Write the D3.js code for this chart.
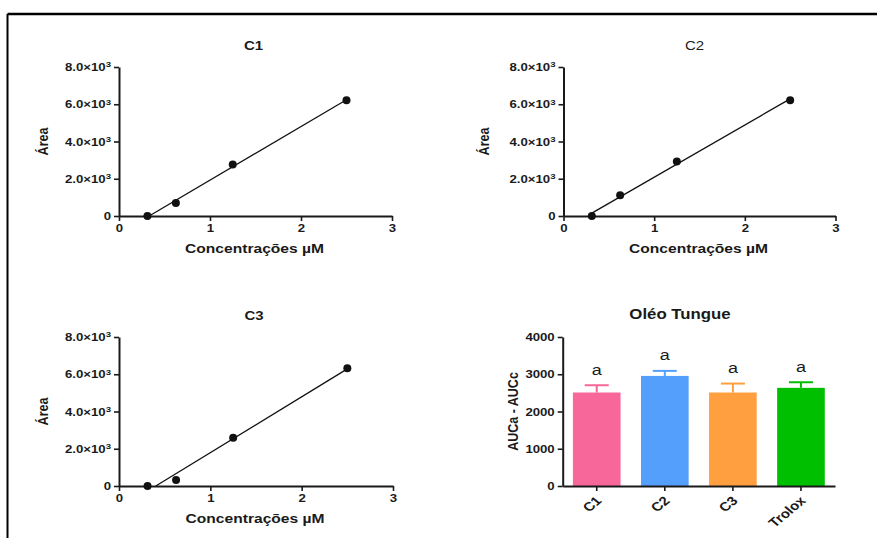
<!DOCTYPE html>
<html><head><meta charset="utf-8">
<script src="https://cdn.jsdelivr.net/npm/d3@7"></script>
<style>body{margin:0;background:#fff}svg{display:block}text{font-family:"Liberation Sans",Arial,sans-serif;fill:#1a1a1a}</style>
</head><body><svg id="c" width="877" height="538"></svg>
<script>
// ---- data ----
const concentrations = [0.3125, 0.625, 1.25, 2.5];
const areaC1 = [0, 700, 2770, 6210];
const areaC2 = [0, 1120, 2930, 6215];
const areaC3 = [0, 320, 2590, 6320];
const scatterXTicks = [0, 1, 2, 3];
const scatterYTicks = [0, 2000, 4000, 6000, 8000];
const barCategories = ["C1", "C2", "C3", "Trolox"];
const barMeans = [2510, 2955, 2510, 2635];
const barSD = [195, 135, 240, 150];
const barLetters = ["a", "a", "a", "a"];
const barYTicks = [0, 1000, 2000, 3000, 4000];
const barColors = ["#F7679A", "#559FFC", "#FF9F40", "#00BF00"];

const S = 1.2; // horizontal text stretch
const svg = d3.select("#c");

// frame
svg.append("line").attr("x1", 7.5).attr("x2", 877).attr("y1", 14).attr("y2", 14).attr("stroke", "#000").attr("stroke-width", 2.5);
svg.append("line").attr("x1", 7.5).attr("x2", 7.5).attr("y1", 14).attr("y2", 538).attr("stroke", "#000").attr("stroke-width", 2);

function txt(x, y, s, size, weight, anchor, rot) {
  return svg.append("text")
    .attr("transform", `translate(${x},${y}) scale(${S},1)` + (rot ? ` rotate(${rot})` : ""))
    .attr("font-size", size).attr("font-weight", weight).attr("text-anchor", anchor || "middle")
    .text(s);
}
function styleAxis(g, fs) {
  g.select(".domain").attr("stroke", "#1a1a1a").attr("stroke-width", 2);
  g.selectAll(".tick line").attr("stroke", "#1a1a1a").attr("stroke-width", 1.6);
  g.selectAll(".tick text").each(function () {
    const t = d3.select(this);
    const x = +t.attr("x") || 0;
    t.attr("x", x / S).attr("transform", `scale(${S},1)`)
     .attr("font-size", fs || 11).attr("font-weight", "bold").attr("fill", "#1a1a1a")
     .style("font-family", '"Liberation Sans",Arial,sans-serif');
  });
}

function scatterPanel(p) {
  const x = d3.scaleLinear().domain([0, 3]).range([p.x0, p.x1]);
  const y = d3.scaleLinear().domain([0, 8000]).range([p.y0, p.yt]);
  const gx = svg.append("g").attr("transform", `translate(0,${p.y0})`)
    .call(d3.axisBottom(x).tickValues(scatterXTicks).tickSize(5).tickPadding(3).tickSizeOuter(0).tickFormat(d3.format("d")));
  styleAxis(gx);
  const gy = svg.append("g").attr("transform", `translate(${p.x0},0)`)
    .call(d3.axisLeft(y).tickValues(scatterYTicks).tickSize(5).tickPadding(3).tickSizeOuter(0));
  styleAxis(gy);
  gy.selectAll(".tick text").each(function (d) {
    const t = d3.select(this); t.text("");
    if (d === 0) { t.text("0"); return; }
    t.append("tspan").text((d / 1000).toFixed(1) + "×10");
    t.append("tspan").attr("font-size", 8).attr("dy", "-0.45em").text("3");
  });
  // regression line
  const xs = concentrations, ys = p.data;
  const mx = d3.mean(xs), my = d3.mean(ys);
  const slope = d3.sum(xs, (v, i) => (v - mx) * (ys[i] - my)) / d3.sum(xs, v => (v - mx) ** 2);
  const icpt = my - slope * mx;
  const xa = Math.max(d3.min(xs), -icpt / slope), xb = d3.max(xs);
  svg.append("line").attr("x1", x(xa)).attr("y1", y(slope * xa + icpt))
    .attr("x2", x(xb)).attr("y2", y(slope * xb + icpt)).attr("stroke", "#111").attr("stroke-width", 1.3);
  svg.selectAll(null).data(xs).enter().append("circle")
    .attr("cx", d => x(d)).attr("cy", (d, i) => y(ys[i])).attr("r", 4).attr("fill", "#111");
  txt((p.x0 + p.x1) / 2 + p.tdx, p.yt - 17.5, p.title, 12.5, p.titleWeight);
  txt((p.x0 + p.x1) / 2 - 1, p.y0 + 36.5, "Concentrações µM", 13, "bold");
  txt(p.x0 - p.ylab, (p.y0 + p.yt) / 2, "Área", 12.5, "bold", "middle", -90).attr("dy", "0.35em");
}

scatterPanel({x0: 119, x1: 392, y0: 216, yt: 67, data: areaC1, title: "C1", titleWeight: "bold", ylab: 76, tdx: -2});
scatterPanel({x0: 563.5, x1: 835.5, y0: 216, yt: 67, data: areaC2, title: "C2", titleWeight: "normal", ylab: 80, tdx: -5});
scatterPanel({x0: 119, x1: 393, y0: 486, yt: 337, data: areaC3, title: "C3", titleWeight: "bold", ylab: 76, tdx: -2});

// bar panel
(function () {
  const x0 = 562.7, x1 = 835, y0 = 486, yt = 337;
  const x = d3.scaleBand().domain(barCategories).range([x0, x1]).paddingInner(0.3).paddingOuter(0.15);
  const y = d3.scaleLinear().domain([0, 4000]).range([y0, yt]);
  svg.selectAll(null).data(barCategories).enter().append("rect")
    .attr("x", d => x(d)).attr("width", x.bandwidth())
    .attr("y", (d, i) => y(barMeans[i])).attr("height", (d, i) => y0 - y(barMeans[i]))
    .attr("fill", (d, i) => barColors[i]);
  barCategories.forEach((c, i) => {
    const cx = x(c) + x.bandwidth() / 2, top = y(barMeans[i] + barSD[i]);
    svg.append("line").attr("x1", cx).attr("x2", cx).attr("y1", y(barMeans[i])).attr("y2", top)
      .attr("stroke", barColors[i]).attr("stroke-width", 2);
    svg.append("line").attr("x1", cx - 12).attr("x2", cx + 12).attr("y1", top).attr("y2", top)
      .attr("stroke", barColors[i]).attr("stroke-width", 2);
    txt(cx, top - 10.5, barLetters[i], 15, "normal");
  });
  const gx = svg.append("g").attr("transform", `translate(0,${y0})`)
    .call(d3.axisBottom(x).tickSize(5).tickSizeOuter(0));
  styleAxis(gx, 12.5);
  gx.selectAll(".tick text").attr("x", null).attr("dy", null).attr("y", null)
    .attr("text-anchor", "end")
    .attr("transform", `translate(2,12.4) scale(${S},1) rotate(-45)`)
    .attr("dy", "0.35em");
  const gy = svg.append("g").attr("transform", `translate(${x0},0)`)
    .call(d3.axisLeft(y).tickValues(barYTicks).tickSize(5).tickPadding(3).tickSizeOuter(0).tickFormat(d3.format("d")));
  styleAxis(gy);
  txt(680, 319, "Oléo Tungue", 14, "bold");
  txt(513, (y0 + yt) / 2, "AUCa - AUCc", 12.5, "bold", "middle", -90).attr("dy", "0.35em");
})();
</script></body></html>
